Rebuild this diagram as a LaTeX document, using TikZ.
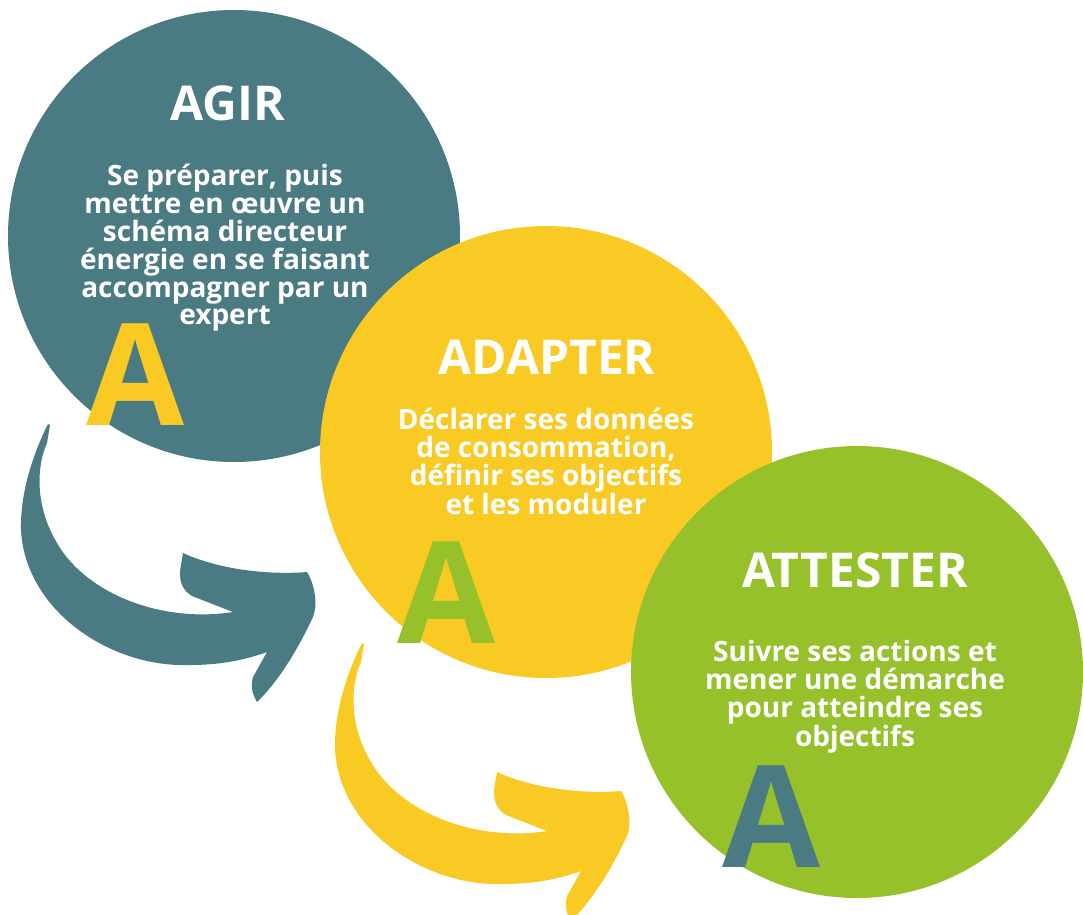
\documentclass[tikz,border=0pt]{standalone}
\usepackage{fontspec}
\setmainfont{Open Sans}
\usepackage{tikz}
\definecolor{agircol}{HTML}{4A7A82}
\definecolor{adaptcol}{HTML}{F9CA24}
\definecolor{attestcol}{HTML}{97C12B}
\newcommand\swooshpath{(48,424) .. controls (35,450) and (20,490) .. (21,530)
  .. controls (25,610) and (110,668) .. (190,665)
  .. controls (220,665) and (245,660) .. (267,652) -- (253,677)
  .. controls (250,688) and (253,695) .. (257,702)
  .. controls (280,680) and (300,645) .. (313,617)
  .. controls (318,605) and (315,585) .. (307,572)
  .. controls (270,575) and (220,570) .. (183,553) -- (181,565)
  .. controls (178,580) and (182,590) .. (192,596) -- (233,612)
  .. controls (170,622) and (100,600) .. (65,555)
  .. controls (35,515) and (35,470) .. (47,443) -- (50,425) -- cycle}
\begin{document}
\begin{tikzpicture}[x=1pt, y=-1pt,
  bubble/.style={circle, minimum size=452pt, inner sep=0pt},
  title/.style={text=white, font=\bfseries\fontsize{48}{52}\selectfont},
  body/.style={text=white, align=center, font=\bfseries\fontsize{28}{27.8}\selectfont},
  bigA/.style={font=\bfseries\fontsize{142}{142}\selectfont, inner sep=0pt}]
\useasboundingbox (0,0) rectangle (1083,914);
\fill[agircol] \swooshpath;
\fill[adaptcol, shift={(314,219)}] \swooshpath;
\node[bubble, fill=agircol] (agir) at (234,236) {};
\node[bubble, fill=adaptcol] (adapter) at (546,452) {};
\node[bubble, fill=attestcol] (attester) at (857,672) {};
\node[title] (agirtitle) at (228,103) {AGIR};
\node[body, anchor=north] (agirtxt) at (225,161) {Se préparer, puis\\mettre en œuvre un\\schéma directeur\\énergie en se faisant\\accompagner par un\\expert};
\node[title] (adaptertitle) at (547,357) {ADAPTER};
\node[body, anchor=north] (adaptertxt) at (546,405) {Déclarer ses données\\de consommation,\\définir ses objectifs\\et les moduler};
\node[title] (attestertitle) at (855,570) {ATTESTER};
\node[body, anchor=north] (attestertxt) at (855,637) {Suivre ses actions et\\mener une démarche\\pour atteindre ses\\objectifs};
\node[bigA, text=adaptcol] (agirA) at (135,375) {A};
\node[bigA, text=attestcol] (adapterA) at (446,593) {A};
\node[bigA, text=agircol] (attesterA) at (771,817) {A};
\end{tikzpicture}
\end{document}
